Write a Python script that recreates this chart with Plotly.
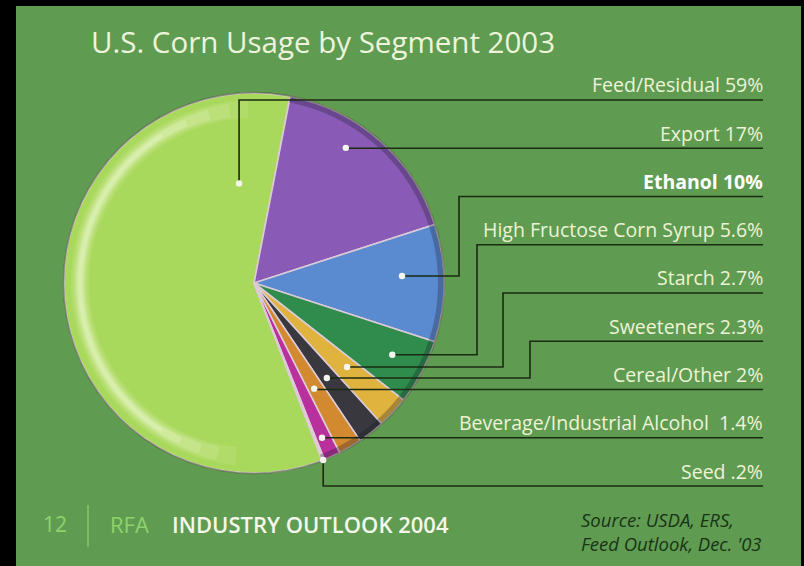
import math
import plotly.graph_objects as go

# U.S. corn usage by segment, 2003 (percent of total)
segments = ["Feed/Residual", "Export", "Ethanol", "High Fructose Corn Syrup",
            "Starch", "Sweeteners", "Cereal/Other",
            "Beverage/Industrial Alcohol", "Seed"]
shares = [59, 17, 10, 5.6, 2.7, 2.3, 2, 1.4, 0.2]
share_text = ["59%", "17%", "10%", "5.6%", "2.7%", "2.3%", "2%", "1.4%", ".2%"]

slice_colors = ["#a9d95c", "#8a5bb6", "#5a8bd0", "#2f8c4c", "#e0b23e",
                "#38383e", "#d3892f", "#b8319c", "#ead0dc"]

W, H = 804, 566
CX, CY, R = 254, 283, 190          # pie centre / radius in pixels
ROTATION = 159                     # start angle of first slice (clockwise from 12 o'clock)

# leader anchor inside each slice: (fraction across the slice, fraction of radius)
anchor = [(0.908, 0.53), (0.38, 0.86), (0.424, 0.78), (0.47, 0.82),
          (0.41, 0.66), (0.57, 0.63), (0.59, 0.64), (0.60, 0.89), (0.5, 1.0)]
# x of the vertical elbow for leaders that step up/down (None = dot column / straight)
elbow = [None, None, 459, 477, 503, 530, None, None, None]

ROW0, ROW_STEP, LINE_END = 100, 48.25, 763


def px(x):
    return x / W


def py(y):
    return 1 - y / H


def polar(theta_deg, r):
    t = math.radians(theta_deg)
    return CX + r * math.sin(t), CY - r * math.cos(t)


fig = go.Figure()
fig.add_trace(go.Pie(
    labels=segments, values=shares, sort=False, direction="clockwise",
    rotation=ROTATION, textinfo="none", hoverinfo="label+percent",
    marker=dict(colors=slice_colors, line=dict(color="#dccbd6", width=1.6)),
    domain=dict(x=[px(CX - R), px(CX + R)], y=[py(CY + R), py(CY - R)]),
    showlegend=False,
))

shapes = []
annotations = []

# page background: black frame with green panel
shapes.append(dict(type="rect", xref="paper", yref="paper", layer="below",
                   x0=px(16), x1=px(801), y0=0, y1=py(6),
                   fillcolor="#5f9c52", line=dict(width=0)))


def arc_path(a0, a1, r, n=72):
    pts = [polar(a0 + (a1 - a0) * i / n, r) for i in range(n + 1)]
    return "M " + " L ".join(f"{px(x):.5f},{py(y):.5f}" for x, y in pts)


# soft glossy rim on the large slice, built from stacked translucent arcs
for w, a, (a0, a1) in [(18, 0.10, (186, 358)), (14, 0.13, (192, 352)), (10, 0.16, (198, 345)),
                       (7, 0.19, (205, 337)), (4, 0.22, (212, 328))]:
    shapes.append(dict(type="path", xref="paper", yref="paper", path=arc_path(a0, a1, R - 16),
                       line=dict(color=f"rgba(252,255,232,{a})", width=w)))
# shaded outer rim on the coloured slices
shapes.append(dict(type="path", xref="paper", yref="paper", path=arc_path(11, 159, R - 3),
                   line=dict(color="rgba(20,20,40,0.28)", width=6)))
shapes.append(dict(type="path", xref="paper", yref="paper", path=arc_path(0, 360, R + 0.5),
                   line=dict(color="rgba(40,60,20,0.45)", width=1.5)))

# leader lines, dots and labels
total = sum(shares)
start = ROTATION
line_col = "#1b2a12"
for i, v in enumerate(shares):
    span = v / total * 360
    fa, fr = anchor[i]
    dx, dy = polar(start + span * fa, R * fr)
    start += span
    row_y = ROW0 + ROW_STEP * i
    if elbow[i] is None:
        pts = [(dx, dy), (dx, row_y), (LINE_END, row_y)]
    else:
        pts = [(dx, dy), (elbow[i], dy), (elbow[i], row_y), (LINE_END, row_y)]
    path = "M " + " L ".join(f"{px(x):.5f},{py(y):.5f}" for x, y in pts)
    shapes.append(dict(type="path", xref="paper", yref="paper", path=path,
                       line=dict(color=line_col, width=1.6)))
    shapes.append(dict(type="circle", xref="paper", yref="paper",
                       x0=px(dx - 3.2), x1=px(dx + 3.2), y0=py(dy + 3.2), y1=py(dy - 3.2),
                       fillcolor="#f4f6ee", line=dict(width=0)))
    bold = segments[i] == "Ethanol"
    sep = "  " if segments[i].startswith("Beverage") else " "
    annotations.append(dict(
        xref="paper", yref="paper", x=px(LINE_END + 2), y=py(row_y - 15),
        xanchor="right", yanchor="middle", showarrow=False,
        text=f"{segments[i]}{sep}{share_text[i]}",
        font=dict(family="Open Sans", size=19.5, color="#ffffff" if bold else "#eef3d6",
                  weight=700 if bold else 500)))

# title
annotations.append(dict(xref="paper", yref="paper", x=px(89), y=py(42),
                        xanchor="left", yanchor="middle", showarrow=False,
                        text="U.S. Corn Usage by Segment 2003",
                        font=dict(family="Open Sans", size=29.5, color="#eef4dc", weight=500)))

# footer
annotations.append(dict(xref="paper", yref="paper", x=px(41), y=py(524),
                        xanchor="left", yanchor="middle", showarrow=False, text="12",
                        font=dict(family="Open Sans", size=21, color="#8fd36c")))
shapes.append(dict(type="line", xref="paper", yref="paper",
                   x0=px(88), x1=px(88), y0=py(505), y1=py(547),
                   line=dict(color="#86c867", width=1.5)))
annotations.append(dict(xref="paper", yref="paper", x=px(108), y=py(524),
                        xanchor="left", yanchor="middle", showarrow=False, text="RFA",
                        font=dict(family="Open Sans", size=22, color="#8fd36c")))
annotations.append(dict(xref="paper", yref="paper", x=px(170), y=py(524),
                        xanchor="left", yanchor="middle", showarrow=False,
                        text="INDUSTRY OUTLOOK 2004",
                        font=dict(family="Open Sans", size=22, color="#f4f7ea", weight=600)))
annotations.append(dict(xref="paper", yref="paper", x=px(579), y=py(531),
                        xanchor="left", yanchor="middle", showarrow=False, align="left",
                        text="<i>Source: USDA, ERS,<br>Feed Outlook, Dec. '03</i>",
                        font=dict(family="Open Sans", size=18.5, color="#1a3316", weight=500)))

fig.update_layout(
    width=W, height=H, margin=dict(l=0, r=0, t=0, b=0),
    paper_bgcolor="#000000", plot_bgcolor="#000000",
    shapes=shapes, annotations=annotations,
)
fig.write_html("out.html")
